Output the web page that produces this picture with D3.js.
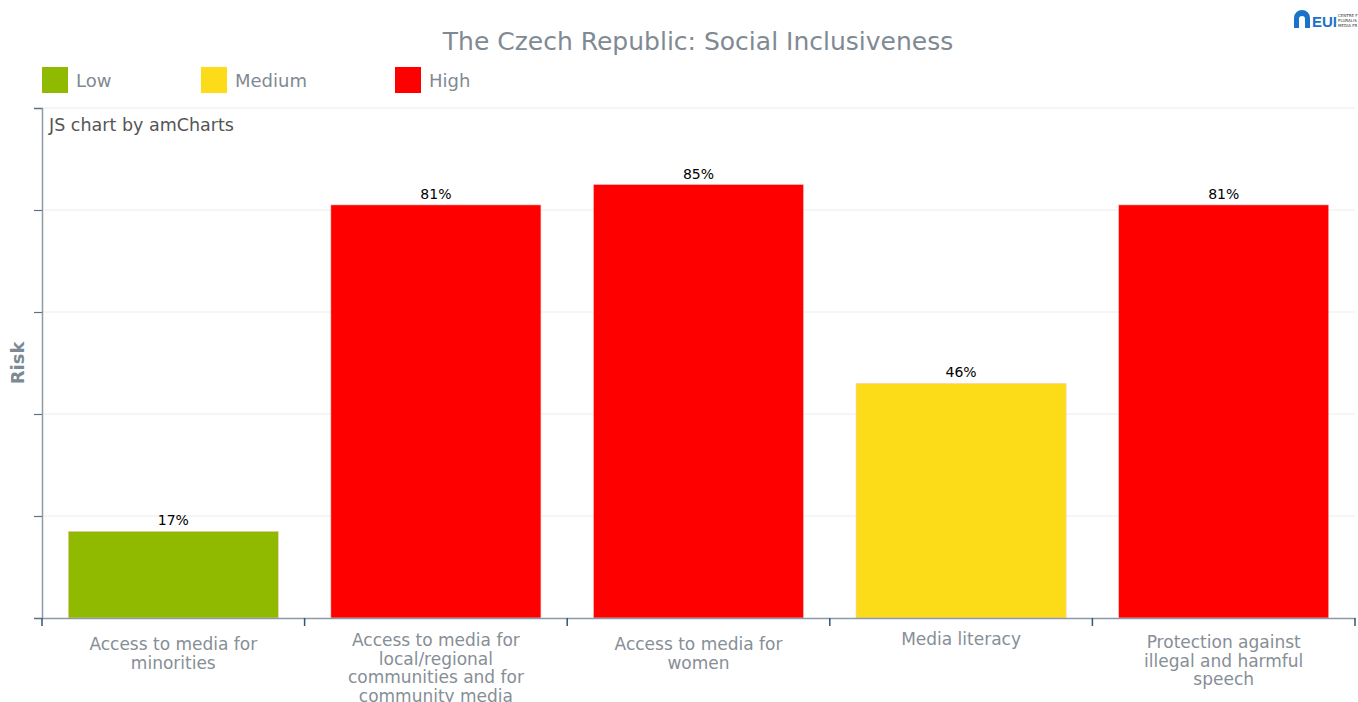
<!DOCTYPE html>
<html><head><meta charset="utf-8">
<script src="https://cdn.jsdelivr.net/npm/d3@7"></script>
<style>body{margin:0;background:#fff;}svg{display:block;font-family:"DejaVu Sans",Verdana,sans-serif;}</style>
</head><body>
<svg id="c" width="1358" height="702"></svg>
<script>
const categories = ["Access to media for minorities","Access to media for local/regional communities and for community media","Access to media for women","Media literacy","Protection against illegal and harmful speech"];
const values = [17, 81, 85, 46, 81];
const levels = ["Low","High","High","Medium","High"];
const legendLabels = ["Low","Medium","High"];
const legendColors = ["#8fba00","#fcdc19","#ff0000"];
const yTicks = [0,20,40,60,80,100];

const svg = d3.select("#c");
const m = {l:42, r:1355, t:108, b:618};
const x = d3.scaleBand().domain(categories).range([m.l, m.r]).paddingInner(0.2).paddingOuter(0.1);
const xo = d3.scaleBand().domain(categories).range([m.l, m.r]);
const y = d3.scaleLinear().domain([0,100]).range([m.b, m.t]);
const color = d3.scaleOrdinal().domain(legendLabels).range(legendColors);

// title
svg.append("text").attr("x",698).attr("y",50).attr("text-anchor","middle")
  .attr("font-size",25).attr("fill","#7f8a93").text("The Czech Republic: Social Inclusiveness");

// legend
const lx = [42,201,395];
legendLabels.forEach((d,i)=>{
  svg.append("rect").attr("x",lx[i]).attr("y",67).attr("width",26).attr("height",26).attr("fill",legendColors[i]);
  svg.append("text").attr("x",lx[i]+34).attr("y",87).attr("font-size",18).attr("fill","#7f8a93").text(d);
});

// grid
svg.append("g").selectAll("line").data(yTicks.slice(1)).join("line")
  .attr("x1",m.l).attr("x2",m.r).attr("y1",d=>y(d)).attr("y2",d=>y(d))
  .attr("stroke","#ececec").attr("stroke-width",1);

// y axis
const ya = svg.append("g").attr("transform",`translate(${m.l},0)`)
  .call(d3.axisLeft(y).tickValues(yTicks).tickSize(8).tickFormat(""));
ya.select(".domain").attr("stroke","#8a9aa8").attr("stroke-width",1.5);
ya.selectAll(".tick line").attr("stroke","#5f7282").attr("stroke-width",1.2);

// bars
svg.append("g").selectAll("rect").data(categories).join("rect")
  .attr("x",d=>x(d)).attr("width",x.bandwidth())
  .attr("y",(d,i)=>y(values[i])).attr("height",(d,i)=>m.b-y(values[i]))
  .attr("fill",(d,i)=>color(levels[i])).attr("stroke","#ffc8c0").attr("stroke-width",0.6);

// value labels
svg.append("g").selectAll("text").data(categories).join("text")
  .attr("x",d=>x(d)+x.bandwidth()/2).attr("y",(d,i)=>y(values[i])-6)
  .attr("text-anchor","middle").attr("font-size",14).attr("fill","#000")
  .text((d,i)=>values[i]+"%");

// x axis
const xa = svg.append("g").attr("transform",`translate(0,${m.b})`)
  .call(d3.axisBottom(xo).tickSize(0).tickFormat(""));
xa.select(".domain").attr("stroke","#8a9aa8").attr("stroke-width",1.5);
const bounds = categories.map(d=>xo(d)).concat([m.r]);
svg.append("g").selectAll("line").data(bounds).join("line")
  .attr("x1",d=>d).attr("x2",d=>d).attr("y1",m.b).attr("y2",m.b+8)
  .attr("stroke","#2f5777").attr("stroke-width",1.5);

// category labels with wrapping
const firstBase = {1:645, 2:650, 3:648, 4:646};
const lab = svg.append("g").selectAll("text").data(categories).join("text")
  .attr("x",d=>xo(d)+xo.bandwidth()/2).attr("y",648)
  .attr("text-anchor","middle").attr("font-size",17).attr("fill","#868e96");
lab.each(function(d){
  const t = d3.select(this); const words = d.split(" ");
  let line=[]; let ts = t.append("tspan").attr("x",t.attr("x")).attr("dy",0);
  let n=1;
  words.forEach(w=>{
    line.push(w); ts.text(line.join(" "));
    if(ts.node().getComputedTextLength()>188 && line.length>1){
      line.pop(); ts.text(line.join(" ")); line=[w]; n++;
      ts = t.append("tspan").attr("x",t.attr("x")).attr("dy",18.5).text(w);
    }
  });
  t.attr("y", firstBase[n] || 648);
});

// y axis title
svg.append("text").attr("transform","translate(24,363) rotate(-90)").attr("text-anchor","middle")
  .attr("font-size",18).attr("font-weight","bold").attr("fill","#7b8a95").text("Risk");

// credit
svg.append("text").attr("x",49).attr("y",131).attr("font-size",17.5).attr("fill","#555").text("JS chart by amCharts");

// logo
const lg = svg.append("g").attr("transform","translate(1294,10)");
lg.append("path").attr("d","M0,18 L0,8 A8,8 0 0 1 16,8 L16,18 L11,18 L11,9 A3,3 0 0 0 5,9 L5,18 Z").attr("fill","#1a73c9");
lg.append("text").attr("x",18).attr("y",17).attr("font-size",15).attr("font-weight","bold").attr("fill","#1a73c9").attr("font-family","Liberation Sans, Arial, sans-serif").text("EUI");
["CENTRE F","PLURALIS","MEDIA FR"].forEach((s,i)=>lg.append("text").attr("x",44).attr("y",7+i*5).attr("font-size",4).attr("fill","#333").text(s));
</script>
</body></html>
